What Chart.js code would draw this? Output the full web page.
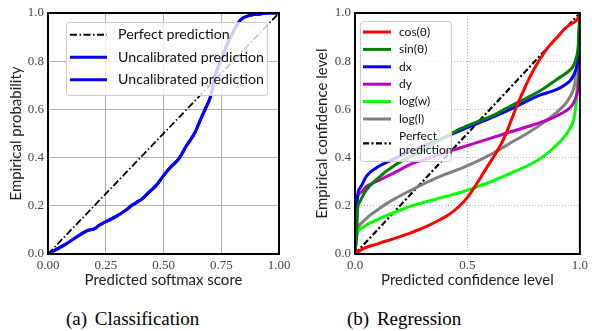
<!DOCTYPE html>
<html>
<head>
<meta charset="utf-8">
<script src="https://cdn.jsdelivr.net/npm/chart.js@4.4.1/dist/chart.umd.min.js"></script>
<style>
  body { margin: 0; background: #fff; }
  #page { position: relative; width: 592px; height: 331px; overflow: hidden; background: #fff; }
  #page canvas { position: absolute; top: 0; }
  .caption { position: absolute; top: 308px; font: 19px "Liberation Serif", serif; color: #000; white-space: nowrap; word-spacing: 3px; }
</style>
</head>
<body>
<div id="page">
  <canvas id="cls" width="296" height="290" style="left:0"></canvas>
  <canvas id="reg" width="296" height="290" style="left:296px"></canvas>
  <div class="caption" style="left:66px">(a) Classification</div>
  <div class="caption" style="left:347px">(b) Regression</div>
</div>
<script>
// ---- (a) classification ----
const clsTicksX = [0, 0.25, 0.5, 0.75, 1];
const confTicksY = [0, 0.2, 0.4, 0.6, 0.8, 1];
const perfectX = [0, 1];
const perfectY = [0, 1];
const uncalX = [0, 0.077, 0.17, 0.2, 0.22, 0.25, 0.295, 0.34, 0.36, 0.38, 0.41, 0.44, 0.47, 0.5, 0.53, 0.565,
                0.6, 0.637, 0.658, 0.68, 0.705, 0.724, 0.753, 0.79, 0.834, 0.87, 0.92, 0.95, 1.0];
const uncalY = [0, 0.041, 0.097, 0.104, 0.118, 0.134, 0.156, 0.184, 0.2, 0.212, 0.231, 0.259, 0.286, 0.325, 0.36, 0.394,
                0.45, 0.505, 0.553, 0.6, 0.657, 0.74, 0.816, 0.9, 0.972, 0.989, 0.996, 1.0, 1.0];

// ---- (b) regression ----
const regTicksX = [0, 0.5, 1];
const cosX = [0, 0.034, 0.107, 0.18, 0.253, 0.326, 0.373, 0.42, 0.46, 0.5, 0.534, 0.58, 0.629, 0.665, 0.716, 0.76,
              0.797, 0.855, 0.9, 0.936, 0.975, 0.99, 1.0];
const cosY = [0, 0.021, 0.044, 0.066, 0.09, 0.118, 0.14, 0.165, 0.195, 0.235, 0.281, 0.35, 0.422, 0.485, 0.606, 0.7,
              0.769, 0.853, 0.9, 0.938, 0.962, 0.975, 1.0];
const sinX = [0, 0.007, 0.01, 0.022, 0.051, 0.095, 0.18, 0.27, 0.326, 0.4, 0.472, 0.545, 0.618, 0.69, 0.765, 0.838,
              0.911, 0.958, 0.972, 0.987, 0.994, 1.0];
const sinY = [0, 0.1, 0.174, 0.217, 0.266, 0.309, 0.37, 0.415, 0.445, 0.485, 0.521, 0.549, 0.577, 0.613, 0.648, 0.686,
              0.733, 0.765, 0.783, 0.825, 0.87, 1.0];
const dxX = [0, 0.007, 0.01, 0.022, 0.051, 0.095, 0.154, 0.27, 0.326, 0.4, 0.472, 0.545, 0.618, 0.69, 0.811, 0.928,
             0.972, 0.987, 0.994, 1.0];
const dxY = [0, 0.12, 0.231, 0.273, 0.323, 0.358, 0.386, 0.435, 0.457, 0.485, 0.514, 0.542, 0.57, 0.6, 0.655, 0.698,
             0.74, 0.783, 0.83, 1.0];
const dyX = [0, 0.007, 0.01, 0.022, 0.051, 0.095, 0.18, 0.253, 0.326, 0.4, 0.472, 0.545, 0.618, 0.69, 0.765, 0.838,
             0.911, 0.969, 0.987, 0.994, 1.0];
const dyY = [0, 0.1, 0.224, 0.252, 0.28, 0.301, 0.34, 0.375, 0.398, 0.42, 0.442, 0.463, 0.485, 0.506, 0.528, 0.55,
             0.58, 0.622, 0.665, 0.72, 1.0];
const logWX = [0, 0.004, 0.012, 0.034, 0.107, 0.18, 0.253, 0.326, 0.4, 0.472, 0.545, 0.618, 0.69, 0.765, 0.838, 0.9,
               0.955, 0.977, 0.987, 0.994, 1.0];
const logWY = [0, 0.05, 0.089, 0.11, 0.146, 0.174, 0.2, 0.219, 0.238, 0.256, 0.28, 0.305, 0.335, 0.365, 0.405, 0.455,
               0.52, 0.58, 0.68, 0.9, 1.0];
const logLX = [0, 0.004, 0.012, 0.034, 0.107, 0.18, 0.253, 0.326, 0.4, 0.472, 0.545, 0.618, 0.69, 0.765, 0.838, 0.911,
               0.958, 0.98, 0.994, 1.0];
const logLY = [0, 0.05, 0.1, 0.132, 0.188, 0.231, 0.266, 0.3, 0.33, 0.355, 0.385, 0.42, 0.46, 0.5, 0.545, 0.6,
               0.655, 0.72, 0.86, 1.0];

const pts = (xs, ys) => xs.map((x, i) => ({ x, y: ys[i] }));

const SANS = 'Lato';
const SERIF = 'Liberation Serif';

// black frame like matplotlib spines
const frame = {
    id: 'frame',
    afterDatasetsDraw(chart) {
        const { left, top, width, height } = chart.chartArea;
        const ctx = chart.ctx;
        ctx.save();
        ctx.strokeStyle = '#000';
        ctx.lineWidth = 2;
        ctx.strokeRect(left, top, width, height);
        ctx.restore();
    }
};

// legend box drawn inside the plot area
const boxLegend = {
    id: 'boxLegend',
    afterDatasetsDraw(chart, args, o) {
        const ctx = chart.ctx;
        ctx.save();
        ctx.beginPath();
        ctx.roundRect(o.x + 0.5, o.y + 0.5, o.w, o.h, 3);
        ctx.fillStyle = 'rgba(255,255,255,0.8)';
        ctx.fill();
        ctx.strokeStyle = '#cccccc';
        ctx.lineWidth = 1;
        ctx.stroke();
        ctx.font = `${o.size}px ${SANS}`;
        ctx.textBaseline = 'middle';
        let y = o.y + o.padTop;
        chart.data.datasets.forEach(ds => {
            const lines = String(ds.label).split('\n');
            const h = o.rowH + (lines.length - 1) * o.lineH;
            const cy = y + h / 2;
            ctx.beginPath();
            ctx.strokeStyle = ds.borderColor;
            ctx.lineWidth = ds.borderWidth;
            ctx.setLineDash(ds.borderDash || []);
            ctx.moveTo(o.x + o.sampleX, cy);
            ctx.lineTo(o.x + o.sampleX + o.sampleLen, cy);
            ctx.stroke();
            ctx.setLineDash([]);
            ctx.fillStyle = '#111';
            lines.forEach((t, i) => {
                ctx.fillText(t, o.x + o.textX, cy - (lines.length - 1) * o.lineH / 2 + i * o.lineH);
            });
            y += h;
        });
        ctx.restore();
    }
};

function makeScales(ticksX, decX, dotted, yWidth, yTitle, xTitle, yTitlePad) {
    const grid = { color: '#b0b0b0', lineWidth: 1, drawTicks: false };
    const border = { display: false, dash: dotted ? [1, 2] : [] };
    const tickFont = { family: SERIF, size: 13 };
    return {
        x: {
            type: 'linear', min: 0, max: 1,
            afterBuildTicks: s => { s.ticks = ticksX.map(v => ({ value: v })); },
            afterFit: s => { s.height = 36; },
            ticks: { font: tickFont, color: '#444', padding: 4, maxRotation: 0,
                     callback: v => v.toFixed(decX) },
            grid, border,
            title: { display: true, text: xTitle, font: { family: SANS, size: 15 }, color: '#222',
                     padding: { top: 0, bottom: 1 } }
        },
        y: {
            type: 'linear', min: 0, max: 1,
            afterBuildTicks: s => { s.ticks = confTicksY.map(v => ({ value: v })); },
            afterFit: s => { s.width = yWidth; },
            ticks: { font: tickFont, color: '#444', padding: 4, callback: v => v.toFixed(1) },
            grid, border,
            title: { display: true, text: yTitle, font: { family: SANS, size: 15 }, color: '#222',
                     padding: { top: yTitlePad, bottom: 0 } }
        }
    };
}

const lineDefaults = { showLine: true, pointRadius: 0, fill: false, cubicInterpolationMode: 'monotone' };

new Chart(document.getElementById('cls'), {
    type: 'scatter',
    data: {
        datasets: [
            { ...lineDefaults, label: 'Perfect prediction', data: pts(perfectX, perfectY),
              borderColor: '#000', borderWidth: 1.8, borderDash: [7, 2.5, 1.5, 2.5] },
            { ...lineDefaults, label: 'Uncalibrated prediction', data: pts(uncalX, uncalY),
              borderColor: '#0000ff', borderWidth: 3 },
            { ...lineDefaults, label: 'Uncalibrated prediction', data: pts(uncalX, uncalY),
              borderColor: '#0000ff', borderWidth: 3 }
        ]
    },
    options: {
        responsive: false, animation: false, devicePixelRatio: 1,
        layout: { padding: { left: 0, top: 13, right: 17, bottom: 0 } },
        plugins: {
            legend: { display: false }, tooltip: { enabled: false },
            boxLegend: { x: 66, y: 22, w: 201, h: 73, padTop: 1.5, rowH: 22.5, lineH: 0,
                         sampleX: 4, sampleLen: 37, textX: 52, size: 14.2 }
        },
        scales: makeScales(clsTicksX, 2, false, 48, 'Empirical probability', 'Predicted softmax score', 7)
    },
    plugins: [frame, boxLegend]
});

const regDash = [6, 2.5, 2, 2.5];
new Chart(document.getElementById('reg'), {
    type: 'scatter',
    data: {
        datasets: [
            { ...lineDefaults, label: 'cos(\u03B8)', data: pts(cosX, cosY), borderColor: '#ff0000', borderWidth: 3 },
            { ...lineDefaults, label: 'sin(\u03B8)', data: pts(sinX, sinY), borderColor: '#008000', borderWidth: 3 },
            { ...lineDefaults, label: 'dx', data: pts(dxX, dxY), borderColor: '#0000ff', borderWidth: 3 },
            { ...lineDefaults, label: 'dy', data: pts(dyX, dyY), borderColor: '#bf00bf', borderWidth: 3 },
            { ...lineDefaults, label: 'log(w)', data: pts(logWX, logWY), borderColor: '#00ff00', borderWidth: 3 },
            { ...lineDefaults, label: 'log(l)', data: pts(logLX, logLY), borderColor: '#808080', borderWidth: 3 },
            { ...lineDefaults, label: 'Perfect\nprediction', data: pts(perfectX, perfectY),
              borderColor: '#000', borderWidth: 2.2, borderDash: regDash }
        ]
    },
    options: {
        responsive: false, animation: false, devicePixelRatio: 1,
        layout: { padding: { left: 0, top: 13, right: 9, bottom: 0 } },
        plugins: {
            legend: { display: false }, tooltip: { enabled: false },
            boxLegend: { x: 64, y: 21, w: 91, h: 140, padTop: 2.3, rowH: 17.4, lineH: 14,
                         sampleX: 3, sampleLen: 28, textX: 39, size: 12 }
        },
        scales: makeScales(regTicksX, 1, true, 59, 'Empirical confidence level', 'Predicted confidence level', 17)
    },
    plugins: [frame, boxLegend]
});
</script>
</body>
</html>
